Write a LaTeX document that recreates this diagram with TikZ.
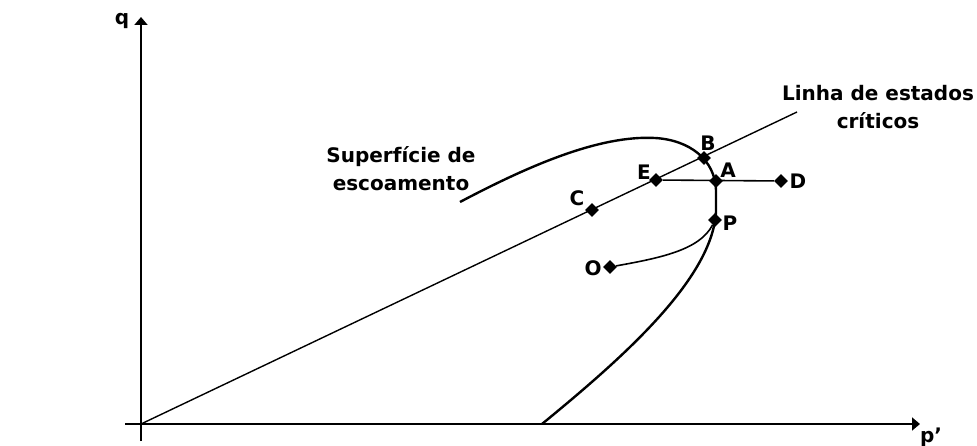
\documentclass[tikz,border=0pt]{standalone}
\usepackage{fontspec}
\setmainfont{DejaVu Sans}
\usetikzlibrary{shapes.geometric,arrows.meta}
\begin{document}
\begin{tikzpicture}[x=1pt,y=-1pt,
  axis/.style={line width=1.8pt,-{Triangle[width=13pt,length=8pt]}},
  csl/.style={line width=1.4pt},
  yieldc/.style={line width=2.4pt,line join=round},
  path/.style={line width=1.6pt},
  pt/.style={diamond,fill=black,inner sep=0pt,minimum size=14pt},
  lbl/.style={font=\fontsize{20}{22}\selectfont\bfseries,inner sep=0pt},
  txt/.style={font=\fontsize{20}{28}\selectfont\bfseries,align=center,inner sep=0pt}]
\useasboundingbox (0,0) rectangle (977,446);
% axes
\coordinate (O0) at (141,424);
\coordinate (ybot) at (141,441);
\coordinate (ytop) at (141,17);
\coordinate (xleft) at (125,424);
\coordinate (xright) at (920,424);
\draw[axis] (ybot) -- (ytop);
\draw[axis] (xleft) -- (xright);
\node[lbl] (qlab) at (122,21) {q};
\node[lbl] (plab) at (931,437) {p\char"0027};
% yield surface
\draw[yieldc] (460,202) .. controls (530,165) and (600,135) .. (655,138)
  .. controls (690,140) and (715,160) .. (716,190) -- (716,212)
  .. controls (712,280) and (620,360) .. (542,424);
% critical state line
\coordinate (cslend) at (797,112);
\draw[csl] (O0) -- (cslend);
% points
\node[pt] (B) at (704,158) {};
\node[pt] (A) at (716,181) {};
\node[pt] (E) at (656,180) {};
\node[pt] (D) at (781,181) {};
\node[pt] (C) at (592,210) {};
\node[pt] (P) at (715,220) {};
\node[pt] (O) at (610,267) {};
\draw[path] (E) -- (D);
\draw[path] (O) .. controls (660,258) and (700,250) .. (P);
% labels
\node[lbl] at (708,143) {B};
\node[lbl] at (728,170) {A};
\node[lbl] at (644,172) {E};
\node[lbl] at (798,181) {D};
\node[lbl] at (577,198) {C};
\node[lbl] at (730,223) {P};
\node[lbl] at (593,268) {O};
\node[txt] (csltxt) at (878,107) {Linha de estados\\críticos};
\node[txt] (ystxt) at (401,169) {Superfície de\\escoamento};
\end{tikzpicture}
\end{document}
